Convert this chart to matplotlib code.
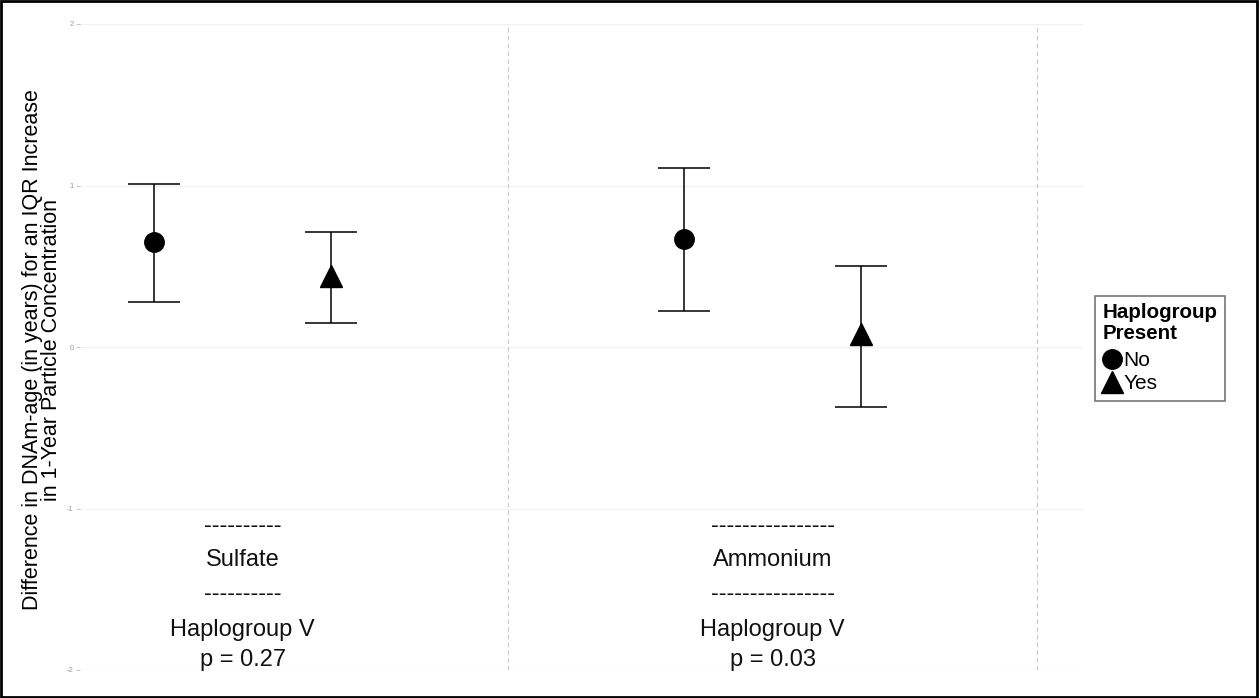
import numpy as np
import matplotlib.pyplot as plt
from matplotlib.lines import Line2D
from matplotlib.patches import Rectangle

plt.rcParams['font.family'] = ['Liberation Sans', 'DejaVu Sans']

# data
pollutants = ['Sulfate', 'Ammonium']
p_values = ['p = 0.27', 'p = 0.03']
dash_labels = ['----------', '----------------']
est_no = [0.65, 0.67]
lo_no = [0.28, 0.22]
hi_no = [1.01, 1.11]
est_yes = [0.44, 0.08]
lo_yes = [0.15, -0.37]
hi_yes = [0.71, 0.50]
y_ticks = [-2, -1, 0, 1, 2]

fig = plt.figure(figsize=(12.6, 6.98), dpi=100)
ax = fig.add_axes([80 / 1260, 1 - 670 / 698, (1083 - 80) / 1260, (670 - 24) / 698])

x = np.arange(1, len(pollutants) + 1)
dodge = 0.167

for xs, est, lo, hi, mk, ms in [(x - dodge, est_no, lo_no, hi_no, 'o', 14),
                                (x + dodge, est_yes, lo_yes, hi_yes, '^', 16.5)]:
    est = np.array(est)
    ax.errorbar(xs, est, yerr=[est - np.array(lo), np.array(hi) - est],
                fmt='none', ecolor='black', elinewidth=1.1, capsize=26 * 0.72,
                capthick=1.1, zorder=3)
    ax.plot(xs, est, linestyle='none', marker=mk, markersize=ms,
            color='black', zorder=4)

# separators between groups
for xv in [1.5, 2.5]:
    ax.axvline(xv, color='#c8c8c8', linestyle=(0, (4, 3)), linewidth=0.8, zorder=1)

# labels written into the panel under each group
text_y = [-1.11, -1.32, -1.53, -1.75, -1.94]
for i, xc in enumerate(x):
    lines = [dash_labels[i], pollutants[i], dash_labels[i], 'Haplogroup V', p_values[i]]
    for ty, s in zip(text_y, lines):
        ax.text(xc, ty, s, ha='center', va='center', fontsize=17, color='#111111')

ax.set_xlim(0.693, 2.586)
ax.set_ylim(-2, 2)
ax.set_yticks(y_ticks)
ax.set_yticklabels([str(t) for t in y_ticks])
ax.set_xticks([])
ax.tick_params(axis='y', labelsize=5.5, labelcolor='#999999', color='#bbbbbb',
               length=3, width=0.6, pad=1.5)
ax.grid(axis='y', color='#f2f2f2', linewidth=1)
ax.set_axisbelow(True)
for sp in ax.spines.values():
    sp.set_visible(False)

fig.text(42 / 1260, 1 - 350 / 698,
         'Difference in DNAm-age (in years) for an IQR Increase\nin 1-Year Particle Concentration',
         rotation=90, ha='center', va='center', fontsize=15.5, linespacing=0.85)

# legend
handles = [Line2D([], [], marker='o', linestyle='none', color='black', markersize=14),
           Line2D([], [], marker='^', linestyle='none', color='black', markersize=16)]
leg = fig.legend(handles, ['No', 'Yes'], title='Haplogroup\nPresent',
                 loc='upper left', bbox_to_anchor=(1095 / 1260, 1 - 296 / 698),
                 fontsize=15, title_fontproperties={'weight': 'bold', 'size': 14.8},
                 frameon=True, fancybox=False, edgecolor='#555555',
                 handlelength=0.95, handletextpad=0.05, labelspacing=0.2,
                 borderpad=0.35, borderaxespad=0)
leg._legend_box.align = 'left'
leg._legend_box.sep = 6
leg.get_frame().set_linewidth(1.2)
leg.get_title().set_linespacing(1.1)

# outer border
fig.patches.append(Rectangle((0.001, 0.002), 0.997, 0.996, transform=fig.transFigure,
                             fill=False, edgecolor='black', linewidth=2))

fig.savefig('out.png', dpi=100)
